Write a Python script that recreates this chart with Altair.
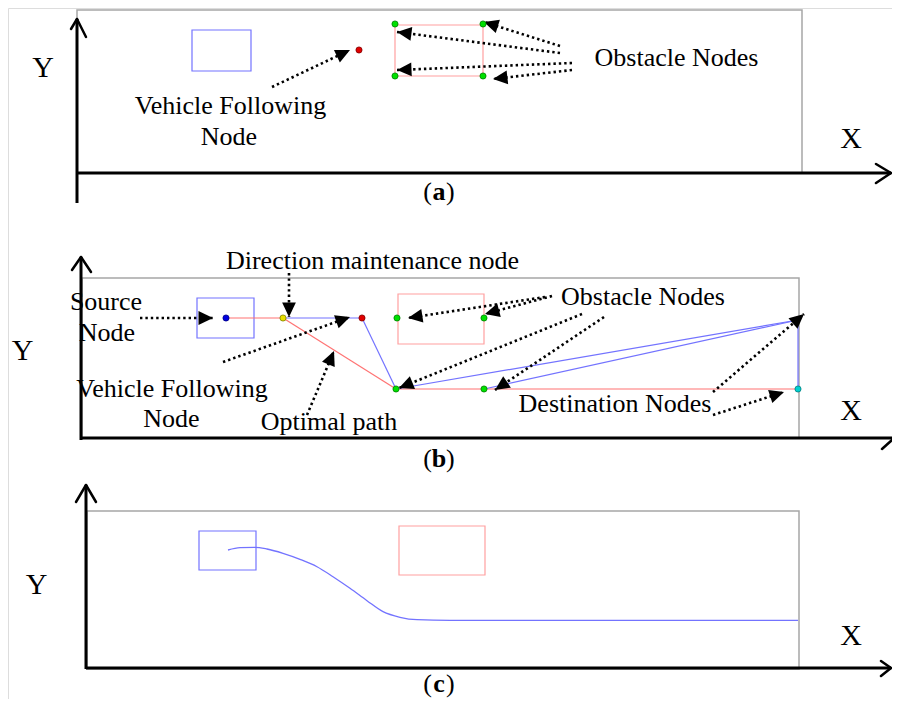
import math
import altair as alt
import pandas as pd

# ---------------- data (diagram coordinates, same units as the picture) -------------
# panel frames (gray boxes)
frame_x1 = [77, 82, 87]
frame_x2 = [802, 799, 799]
frame_y1 = [10, 278, 511]
frame_y2 = [173, 438, 669]

# Y axes and X axes (black)
yaxis_x = [77, 81, 86]
yaxis_top = [19, 257, 485]
yaxis_bottom = [203, 440, 669]
xaxis_y = [173, 438, 668]
xaxis_left = [77, 81, 86]
xaxis_right = [891, 892, 891]

# open arrow heads on the axes (segments)
chev_x1 = [77, 77, 81, 81, 86, 86, 891, 891, 892, 891, 891]
chev_y1 = [19, 19, 257, 257, 485, 485, 173, 173, 440, 668, 668]
chev_x2 = [71, 86, 72, 91, 76, 96, 876, 876, 882, 881, 881]
chev_y2 = [29, 37, 270, 272, 502, 502, 164, 183, 449, 661, 676]

# vehicle (blue) and obstacle (red) rectangles
rect_x1 = [192, 395, 197, 398, 199, 399]
rect_x2 = [251, 483, 254, 484, 256, 485]
rect_y1 = [30, 25, 298, 294, 531, 526]
rect_y2 = [71, 76, 338, 344, 570, 575]
rect_kind = ["vehicle", "obstacle", "vehicle", "obstacle", "vehicle", "obstacle"]

# nodes
node_x = [359, 395, 483, 395, 483,
          226, 283, 362, 397, 484, 396, 484, 798]
node_y = [50, 24, 24, 76, 76,
          318, 318, 318, 318, 318, 389, 389, 389]
node_kind = ["following", "obstacle", "obstacle", "obstacle", "obstacle",
             "source", "direction", "following", "obstacle", "obstacle",
             "obstacle", "obstacle", "destination"]

# path segments in (b)
seg_x1 = [226, 283, 396, 283, 362, 396, 484, 798]
seg_y1 = [318, 318, 389, 318, 318, 389, 389, 320]
seg_x2 = [283, 396, 798, 362, 396, 798, 798, 798]
seg_y2 = [318, 389, 389, 318, 389, 320, 320, 389]
seg_kind = ["optimal", "optimal", "optimal", "candidate", "candidate",
            "candidate", "candidate", "candidate"]

# smooth trajectory in (c)
traj_x = [228, 240, 255, 267, 283, 300, 317, 333, 350, 367, 383, 400, 417, 450, 798]
traj_y = [550, 547.7, 547.3, 549, 553.3, 559.3, 566.7, 576.7, 588.3, 600.7,
          611.7, 617.3, 619.7, 620.3, 620.3]

# dotted annotation arrows (start -> tip)
arr_sx = [272, 560, 560, 572, 572,
          140, 289, 223, 307, 552, 545, 582, 604, 713, 713]
arr_sy = [87, 46, 53, 63, 70,
          318, 273, 362, 415, 296, 297, 314, 317, 392, 415]
arr_tx = [350, 484, 397, 397, 493,
          213, 289, 350, 334, 485, 408, 399, 495, 804, 784]
arr_ty = [50, 22, 32, 70, 79,
          318, 317, 317, 351, 314, 318, 388, 390, 314, 392]

# text labels
label_text = ["Y", "X", "Vehicle Following", "Node", "Obstacle Nodes",
              "Direction maintenance node", "Source", "Node", "Vehicle Following", "Node",
              "Optimal path", "Obstacle Nodes", "Destination Nodes", "Y", "X",
              "Y", "X"]
label_x = [43, 851, 230.5, 229, 676.5,
           372.5, 106, 107, 172, 171.5,
           329, 643, 615, 22.5, 851,
           36.7, 851]
label_y = [77, 148, 114, 145, 66,
           269, 310, 341, 397, 427,
           430, 305, 412, 360, 420,
           594, 645]
label_size = [30, 30, 26, 26, 26,
              26, 26, 26, 26, 26,
              26, 26, 26, 30, 30,
              30, 30]

panel_letter = ["a", "b", "c"]
panel_x = [439, 439, 439]
panel_y = [200, 467, 692]

# ---------------- styles ----------------
BLUE = "#7373ff"
RED = "#ff7373"
node_fill = {"following": "#e00000", "obstacle": "#00e000", "source": "#0000e0",
             "direction": "#e8e000", "destination": "#00d0d0"}
node_stroke = {"following": "#800000", "obstacle": "#008000", "source": "#000080",
               "direction": "#808000", "destination": "#008080"}
FONT = "Liberation Serif"

W, H = 884, 691
xs = alt.Scale(domain=[8, 8 + W], nice=False, zero=False)
ys = alt.Scale(domain=[8, 8 + H], nice=False, zero=False, reverse=True)


def X(f):
    return alt.X(f, type="quantitative", scale=xs, axis=None)


def Y(f):
    return alt.Y(f, type="quantitative", scale=ys, axis=None)


frames = pd.DataFrame(dict(x1=frame_x1, x2=frame_x2, y1=frame_y1, y2=frame_y2))
frame_layer = alt.Chart(frames).mark_rect(fill="transparent", stroke="#a6a6a6", strokeWidth=1.5).encode(
    x=X("x1"), x2=alt.X2("x2"), y=Y("y1"), y2=alt.Y2("y2"))

rects = pd.DataFrame(dict(x1=rect_x1, x2=rect_x2, y1=rect_y1, y2=rect_y2,
                          c=[BLUE if k == "vehicle" else "#ffa0a0" for k in rect_kind]))
rect_layer = alt.Chart(rects).mark_rect(fill="transparent", strokeWidth=1.2).encode(
    x=X("x1"), x2=alt.X2("x2"), y=Y("y1"), y2=alt.Y2("y2"), stroke=alt.Stroke("c:N", scale=None))

yax = pd.DataFrame(dict(x=yaxis_x, y1=yaxis_top, y2=yaxis_bottom))
yax_layer = alt.Chart(yax).mark_rule(color="black", strokeWidth=3).encode(
    x=X("x"), y=Y("y1"), y2=alt.Y2("y2"))
xax = pd.DataFrame(dict(y=xaxis_y, x1=xaxis_left, x2=xaxis_right))
xax_layer = alt.Chart(xax).mark_rule(color="black", strokeWidth=3).encode(
    y=Y("y"), x=X("x1"), x2=alt.X2("x2"))
chev = pd.DataFrame(dict(x1=chev_x1, y1=chev_y1, x2=chev_x2, y2=chev_y2))
chev_layer = alt.Chart(chev).mark_rule(color="black", strokeWidth=2.5, strokeCap="round").encode(
    x=X("x1"), y=Y("y1"), x2=alt.X2("x2"), y2=alt.Y2("y2"))

segs = pd.DataFrame(dict(x1=seg_x1, y1=seg_y1, x2=seg_x2, y2=seg_y2,
                         c=[RED if k == "optimal" else BLUE for k in seg_kind]))
seg_layer = alt.Chart(segs).mark_rule(strokeWidth=1.2).encode(
    x=X("x1"), y=Y("y1"), x2=alt.X2("x2"), y2=alt.Y2("y2"), color=alt.Color("c:N", scale=None))

traj = pd.DataFrame(dict(x=traj_x, y=traj_y, o=list(range(len(traj_x)))))
traj_layer = alt.Chart(traj).mark_line(color=BLUE, strokeWidth=1.3, interpolate="monotone").encode(
    x=X("x"), y=Y("y"), order="o:Q")

arrows = pd.DataFrame(dict(sx=arr_sx, sy=arr_sy, tx=arr_tx, ty=arr_ty))
arrows["angle"] = [(math.degrees(math.atan2(ty - sy, tx - sx)) + 360) % 360
                   for sx, sy, tx, ty in zip(arr_sx, arr_sy, arr_tx, arr_ty)]
dot_layer = alt.Chart(arrows).mark_rule(color="black", strokeWidth=2.6, strokeDash=[2.4, 3]).encode(
    x=X("sx"), y=Y("sy"), x2=alt.X2("tx"), y2=alt.Y2("ty"))
head_layer = alt.Chart(arrows).mark_point(shape="M0,0L-2,-0.95L-2,0.95Z", filled=True, size=210,
                                          color="black", opacity=1).encode(
    x=X("tx"), y=Y("ty"), angle=alt.Angle("angle:Q", scale=None))

nodes = pd.DataFrame(dict(x=node_x, y=node_y,
                          f=[node_fill[k] for k in node_kind],
                          s=[node_stroke[k] for k in node_kind]))
node_layer = alt.Chart(nodes).mark_point(shape="circle", filled=True, size=38, strokeWidth=0.8,
                                         opacity=1).encode(
    x=X("x"), y=Y("y"), fill=alt.Fill("f:N", scale=None), stroke=alt.Stroke("s:N", scale=None))

labels = pd.DataFrame(dict(t=label_text, x=label_x, y=label_y, s=label_size))
label_layer = alt.Chart(labels).mark_text(font=FONT, color="black", align="center",
                                          baseline="alphabetic").encode(
    x=X("x"), y=Y("y"), text="t:N", size=alt.Size("s:Q", scale=None))

# panel captions: regular parentheses around a bold letter
panels = pd.DataFrame(dict(t=panel_letter, x=panel_x, y=panel_y))
panels["open"] = "("
panels["close"] = ")"
letter_layer = alt.Chart(panels).mark_text(font=FONT, color="black", align="center",
                                           baseline="alphabetic", fontSize=26, fontWeight="bold").encode(
    x=X("x"), y=Y("y"), text="t:N")
open_layer = alt.Chart(panels).mark_text(font=FONT, color="black", align="right", dx=-7,
                                         baseline="alphabetic", fontSize=26).encode(
    x=X("x"), y=Y("y"), text="open:N")
close_layer = alt.Chart(panels).mark_text(font=FONT, color="black", align="left", dx=7,
                                          baseline="alphabetic", fontSize=26).encode(
    x=X("x"), y=Y("y"), text="close:N")

chart = alt.layer(
    frame_layer, rect_layer, seg_layer, traj_layer, yax_layer, xax_layer, chev_layer,
    dot_layer, head_layer, node_layer, label_layer, letter_layer, open_layer, close_layer
).properties(
    width=W, height=H, padding=0, autosize=alt.AutoSizeParams(type="none")
).configure_view(strokeWidth=0).configure(background="white")

chart.save("out.html", embed_options={"renderer": "svg", "actions": False})
